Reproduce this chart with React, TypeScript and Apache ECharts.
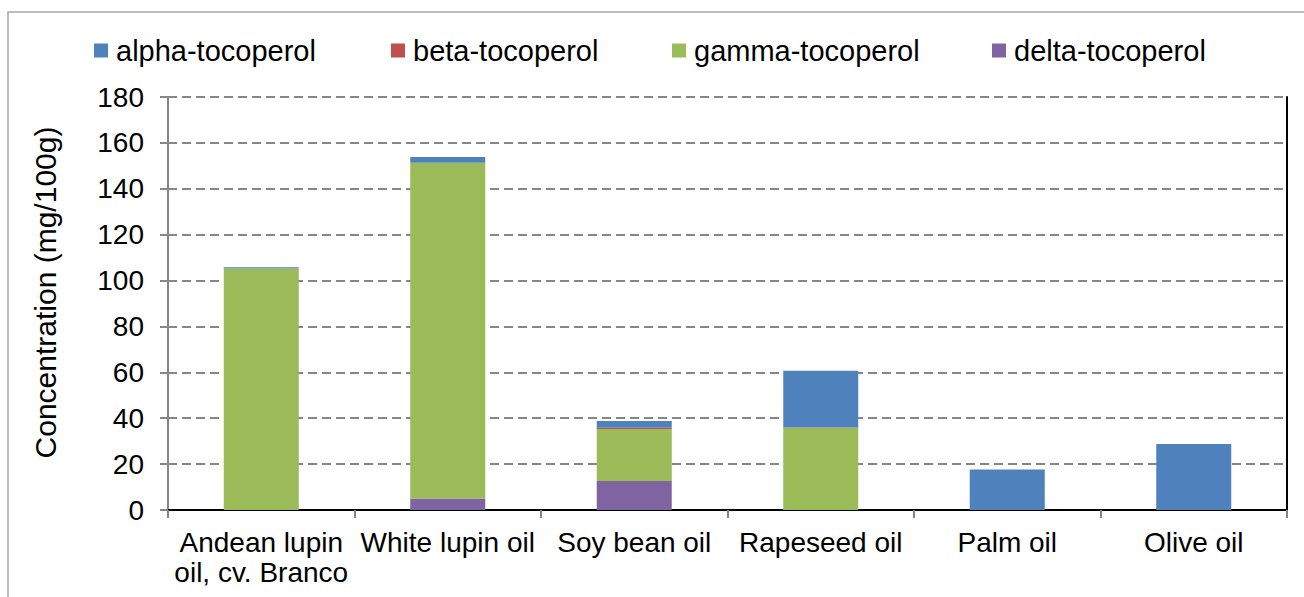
import React, { useEffect, useRef } from "react";
import * as echarts from "echarts";

const categories = [
  "Andean lupin\noil, cv. Branco",
  "White lupin oil",
  "Soy bean oil",
  "Rapeseed oil",
  "Palm oil",
  "Olive oil",
];
const seriesNames = ["alpha-tocoperol", "beta-tocoperol", "gamma-tocoperol", "delta-tocoperol"];
const alpha = [0.5, 2.6, 2.9, 24.7, 17.7, 28.8];
const beta = [0, 0, 0.6, 0.2, 0, 0];
const gamma = [105.3, 146.3, 22.7, 35.8, 0, 0];
const delta = [0, 5.0, 12.6, 0, 0, 0];
const yTicks = [0, 20, 40, 60, 80, 100, 120, 140, 160, 180];

const FONT = "'Liberation Sans', Arial, sans-serif";
const legendLeft = [94, 391, 672, 992];

export default function App() {
  const ref = useRef<HTMLDivElement>(null);
  useEffect(() => {
    if (!ref.current) return;
    const chart = echarts.init(ref.current, undefined, { renderer: "svg" });
    const bar = (name: string, data: number[], color: string) => ({
      name,
      type: "bar",
      stack: "total",
      data,
      barWidth: 75,
      itemStyle: { color },
      emphasis: { disabled: true },
    });
    chart.setOption({
      animation: false,
      textStyle: { fontFamily: FONT },
      graphic: [
        {
          type: "rect",
          shape: { x: 8, y: 12, width: 1300, height: 600 },
          style: { fill: "none", stroke: "#a6a6a6", lineWidth: 1.5 },
          silent: true,
        },
      ],
      legend: seriesNames.map((n, i) => ({
        top: 36,
        left: legendLeft[i],
        padding: 0,
        itemWidth: 14,
        itemHeight: 14,
        icon: "rect",
        selectedMode: false,
        data: [n],
        textStyle: { fontSize: 29, color: "#000", fontFamily: FONT, padding: [0, 0, 0, 3] },
      })),
      grid: { left: 168, right: 17, top: 97, bottom: 87 },
      xAxis: [
        {
          type: "category",
          data: categories,
          axisLine: { lineStyle: { color: "#868686", width: 2 } },
          axisTick: { show: true, length: 8, lineStyle: { color: "#868686", width: 2 } },
          axisLabel: { fontSize: 28, color: "#000", margin: 17, lineHeight: 30, fontFamily: FONT, interval: 0 },
        },
        {
          type: "category",
          data: categories,
          position: "top",
          axisLine: { lineStyle: { color: "#000", width: 2 } },
          axisTick: { show: false },
          axisLabel: { show: false },
        },
      ],
      yAxis: [
        {
          type: "value",
          min: 0,
          max: 180,
          interval: 20,
          axisLine: { show: true, lineStyle: { color: "#868686", width: 2 } },
          axisTick: { show: true, length: 8, lineStyle: { color: "#868686", width: 2 } },
          axisLabel: {
            fontSize: 28,
            color: "#000",
            margin: 24,
            fontFamily: FONT,
            formatter: (v: number) => (yTicks.includes(v) ? String(v) : ""),
          },
          splitLine: { show: true, lineStyle: { color: "#868686", width: 2, type: [9, 5] } },
          name: "Concentration (mg/100g)",
          nameLocation: "middle",
          nameGap: 108,
          nameRotate: 90,
          nameTextStyle: { fontSize: 30, color: "#000", fontFamily: FONT, padding: [0, 0, 0, 22] },
        },
        {
          type: "value",
          min: 0,
          max: 180,
          interval: 20,
          position: "right",
          axisLine: { show: true, lineStyle: { color: "#000", width: 2 } },
          axisTick: { show: false },
          axisLabel: { show: false },
          splitLine: { show: false },
        },
      ],
      series: [
        bar("delta-tocoperol", delta, "#8064A2"),
        bar("gamma-tocoperol", gamma, "#9BBB59"),
        bar("beta-tocoperol", beta, "#C0504D"),
        bar("alpha-tocoperol", alpha, "#4F81BD"),
      ],
    });
    return () => chart.dispose();
  }, []);
  return (
    <div
      ref={ref}
      style={{ position: "fixed", left: 0, top: 0, width: 1304, height: 597, background: "#fff" }}
    />
  );
}
